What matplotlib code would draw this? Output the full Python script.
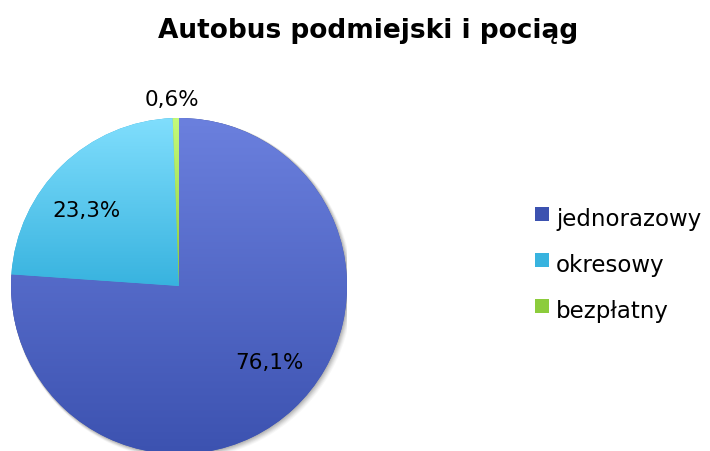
import numpy as np
import matplotlib
matplotlib.use("Agg")
import matplotlib.pyplot as plt
from matplotlib.colors import LinearSegmentedColormap
from matplotlib.patches import Rectangle, Circle

title = "Autobus podmiejski i pociąg"
categories = ["jednorazowy", "okresowy", "bezpłatny"]
shares = [76.1, 23.3, 0.6]
# top / bottom colour of each slice's vertical gradient
grad_top = ["#6b80de", "#80defd", "#c4fa7a"]
grad_bot = ["#3c52b0", "#38b3df", "#8ccc3c"]

plt.rcParams["font.family"] = ["DejaVu Sans"]

W, H = 710, 452
fig = plt.figure(figsize=(W / 100, H / 100), dpi=100)
fig.patch.set_facecolor("white")

# pie axes: centre (179, 287) px from the top, radius 168 px
cx, cy, r = 179, 287, 168
ax = fig.add_axes([(cx - r) / W, (H - cy - r) / H, 2 * r / W, 2 * r / H])
ax.set_aspect("equal")
ax.axis("off")

# soft drop shadow under the pie
px = 1.0 / r
for k, a in zip(range(6, 0, -1), [0.03, 0.04, 0.05, 0.06, 0.07, 0.08]):
    ax.add_patch(Circle((k * 0.5 * px, -k * 0.5 * px), 1 + k * 0.4 * px,
                        facecolor="black", alpha=a, edgecolor="none", zorder=0))

wedges, _ = ax.pie(shares, startangle=90, counterclock=False, radius=1,
                   center=(0, 0), frame=False,
                   wedgeprops=dict(linewidth=0))
ax.set_xlim(-1, 1)
ax.set_ylim(-1, 1)

grad = np.linspace(0, 1, 256).reshape(-1, 1)
fig.canvas.draw()
for i, (w, t, b) in enumerate(zip(wedges, grad_top, grad_bot)):
    # the big slice shades over the whole disc, the others over their own height
    if i == 0:
        y0, y1 = -1, 1
    else:
        path = w.get_path()
        ys = path.vertices[:, 1]
        y0, y1 = ys.min(), ys.max()
    w.set_facecolor(b)
    cmap = LinearSegmentedColormap.from_list("g", [t, b])
    im = ax.imshow(grad, cmap=cmap, extent=(-1, 1, y0, y1), origin="upper",
                   aspect="auto", zorder=2)
    im.set_clip_path(w)
    w.set_zorder(1)
ax.set_xlim(-1, 1)
ax.set_ylim(-1, 1)

# value labels (pixel positions from the top-left corner)
label_xy = [(269, 363), (86, 211), (172, 100)]
for v, (lx, ly) in zip(shares, label_xy):
    txt = f"{v:.1f}%".replace(".", ",")
    fig.text(lx / W, 1 - ly / H, txt, ha="center", va="center",
             fontsize=15.5, color="black", zorder=5)

fig.text(368 / W, 1 - 38 / H, title, ha="center", va="baseline",
         fontsize=19, fontweight="bold", color="black")

# legend
leg_base = [226, 272, 318]
for name, c, y in zip(categories, grad_bot, leg_base):
    fig.patches.append(Rectangle((535 / W, 1 - (y - 4) / H), 14 / W, 14 / H,
                                 transform=fig.transFigure,
                                 facecolor=c, edgecolor="none"))
    fig.text(556 / W, 1 - y / H, name, ha="left", va="baseline",
             fontsize=16.5, color="black")

fig.savefig("out.png", dpi=100, facecolor="white")
